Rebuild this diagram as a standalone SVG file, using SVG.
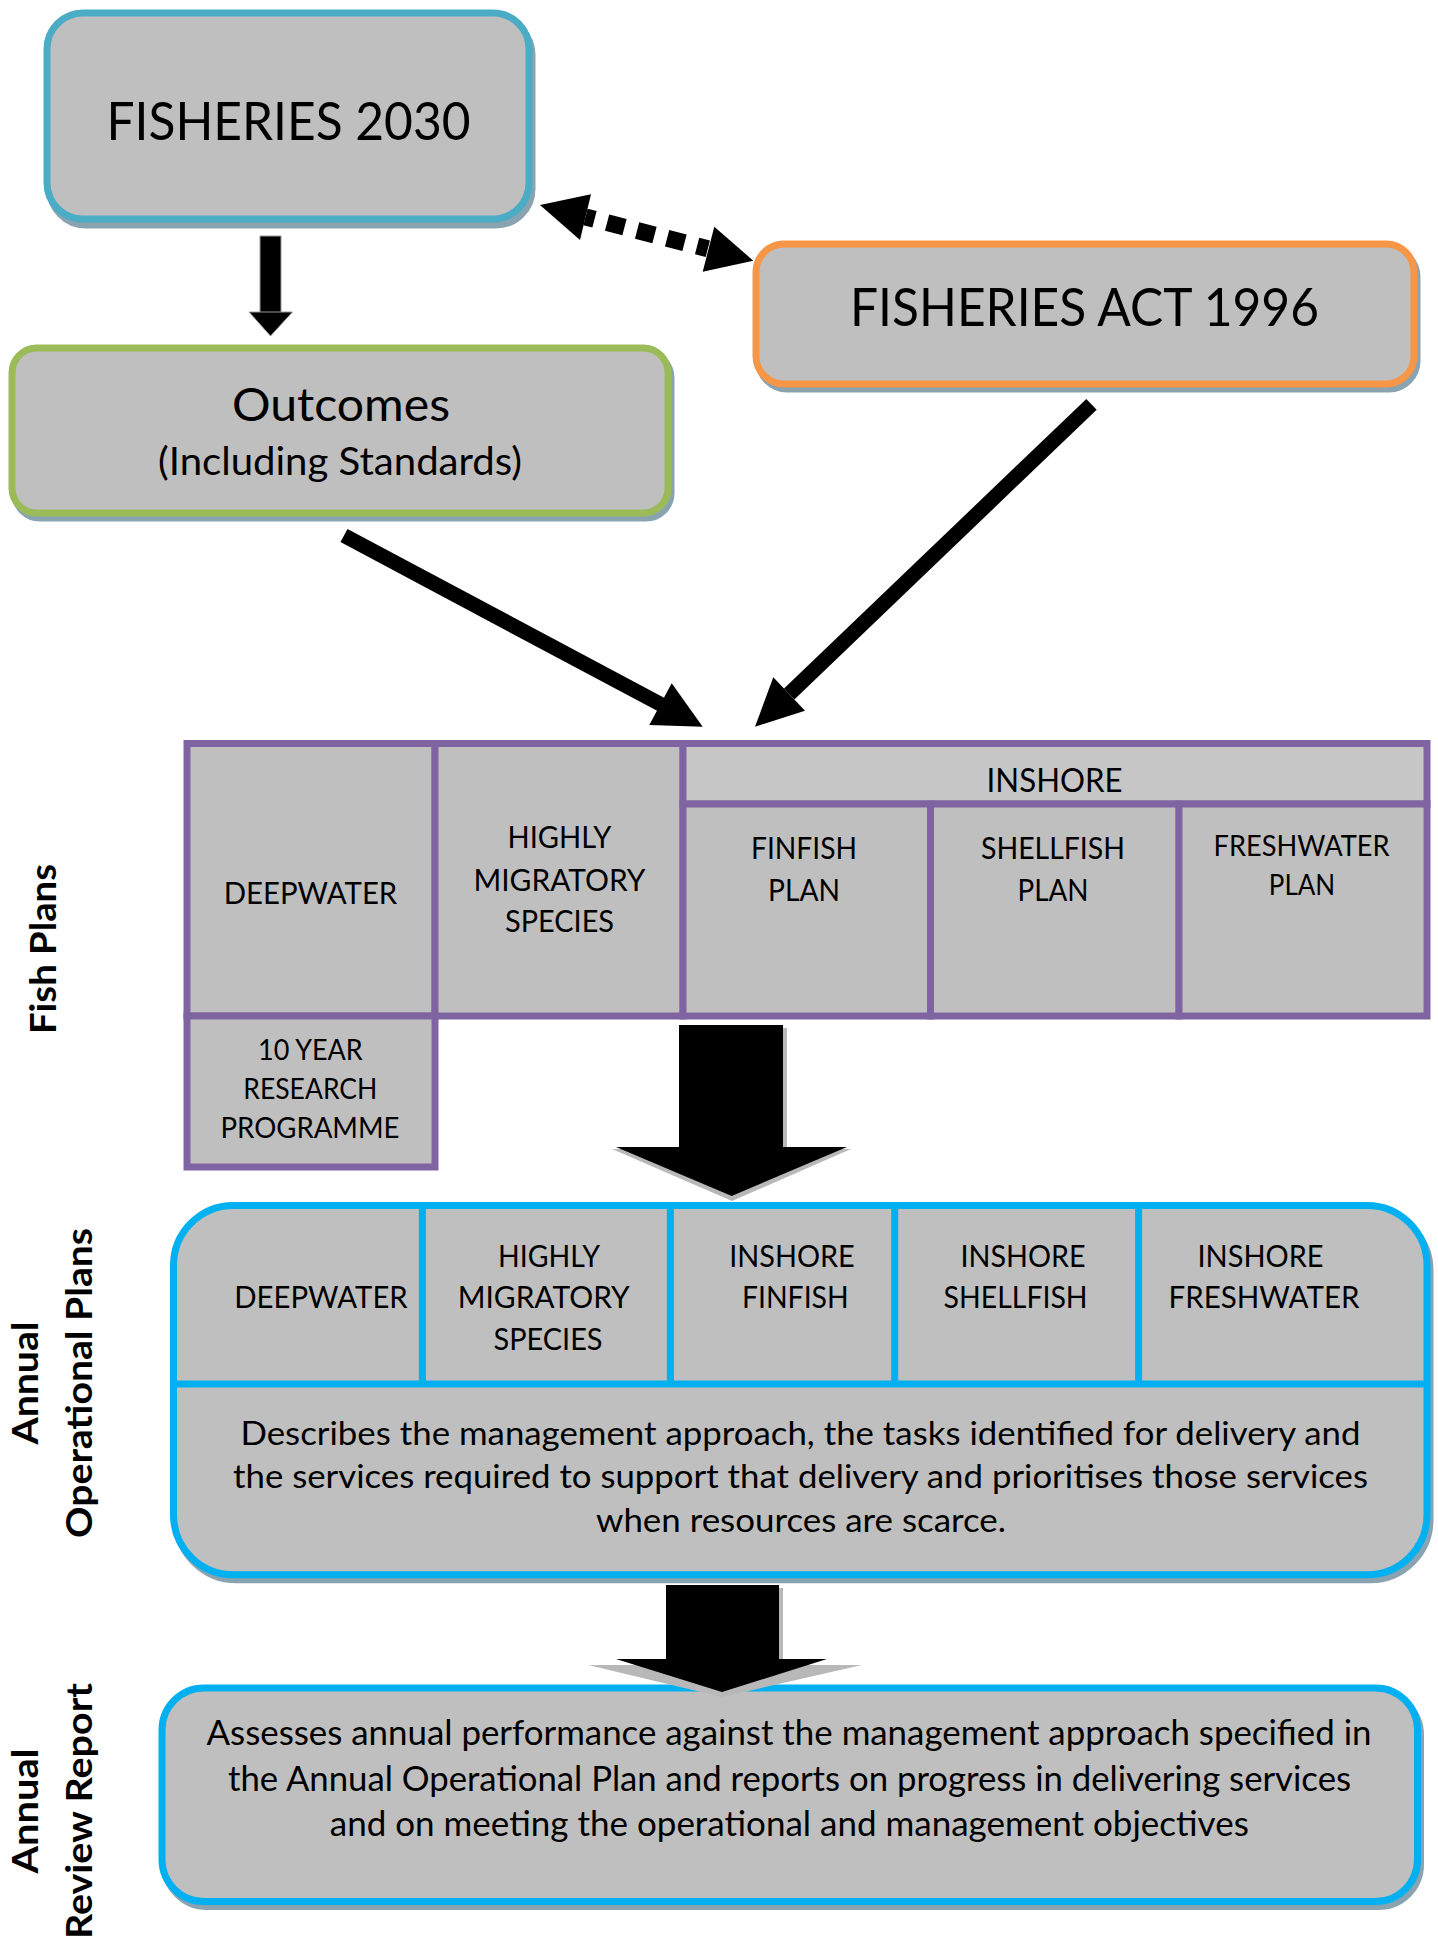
<svg xmlns="http://www.w3.org/2000/svg" width="1438" height="1937" viewBox="0 0 1438 1937">
<defs>
<style>
.t{font-family:Lato,'Open Sans','Liberation Sans',sans-serif;fill:#000;text-anchor:middle;}
.b{font-weight:bold;}
.sh{fill:#A9BDC8;stroke:#8AA3B1;stroke-width:7;}
.box{fill:#BFBFBF;stroke-width:7;}
.cell{fill:#BFBFBF;stroke:#8064A2;stroke-width:7;}
.blue{stroke:#00B0F0;stroke-width:7;fill:none;}
.arw{fill:#000;}
.gsh{fill:#B8B8B8;}
</style>
</defs>
<rect width="1438" height="1937" fill="#FFFFFF"/>

<g id="fisheries2030">
<rect class="sh" x="50" y="19" width="482" height="206" rx="36"/>
<rect class="box" x="47" y="13" width="482" height="206" rx="36" stroke="#4BACC6"/>
<text class="t" x="288.5" y="140" font-size="52" textLength="364" lengthAdjust="spacingAndGlyphs">FISHERIES 2030</text>
</g>

<g id="fisheriesAct">
<rect class="sh" x="759" y="249" width="658" height="140" rx="28"/>
<rect class="box" x="756" y="244" width="658" height="140" rx="28" stroke="#F79646"/>
<text class="t" x="1084.5" y="326" font-size="52" textLength="469" lengthAdjust="spacingAndGlyphs">FISHERIES ACT 1996</text>
</g>

<g id="outcomes">
<rect class="sh" x="15" y="353" width="656" height="165" rx="25"/>
<rect class="box" x="12" y="348" width="656" height="165" rx="25" stroke="#9BBB59"/>
<text class="t" x="341" y="421" font-size="47" textLength="218" lengthAdjust="spacingAndGlyphs">Outcomes</text>
<text class="t" x="340" y="475" font-size="38" textLength="364" lengthAdjust="spacingAndGlyphs">(Including Standards)</text>
</g>

<g id="fishPlans">
<rect class="cell" x="187" y="743.5" width="248" height="272.5"/>
<rect class="cell" x="435" y="743.5" width="248" height="272.5"/>
<rect class="cell" x="683" y="743.5" width="744" height="60.5" fill="#C6C6C6" style="fill:#C6C6C6"/>
<rect class="cell" x="683" y="804" width="247.5" height="212"/>
<rect class="cell" x="930.5" y="804" width="248.5" height="212"/>
<rect class="cell" x="1179" y="804" width="248" height="212"/>
<rect class="cell" x="187" y="1016" width="248" height="151"/>
<text class="t" x="310.5" y="904" font-size="30.5" textLength="173.5" lengthAdjust="spacingAndGlyphs">DEEPWATER</text>
<text class="t" x="559.5" y="848" font-size="30.5" textLength="104" lengthAdjust="spacingAndGlyphs">HIGHLY</text>
<text class="t" x="559.5" y="890.5" font-size="30.5" textLength="172" lengthAdjust="spacingAndGlyphs">MIGRATORY</text>
<text class="t" x="559.5" y="932" font-size="30.5" textLength="109" lengthAdjust="spacingAndGlyphs">SPECIES</text>
<text class="t" x="1054.6" y="792" font-size="33" textLength="136" lengthAdjust="spacingAndGlyphs">INSHORE</text>
<text class="t" x="804" y="859" font-size="30.5" textLength="106" lengthAdjust="spacingAndGlyphs">FINFISH</text>
<text class="t" x="804" y="901" font-size="30.5" textLength="72" lengthAdjust="spacingAndGlyphs">PLAN</text>
<text class="t" x="1053" y="859" font-size="30.5" textLength="144" lengthAdjust="spacingAndGlyphs">SHELLFISH</text>
<text class="t" x="1053" y="901" font-size="30.5" textLength="71" lengthAdjust="spacingAndGlyphs">PLAN</text>
<text class="t" x="1301.6" y="856" font-size="28.5" textLength="176" lengthAdjust="spacingAndGlyphs">FRESHWATER</text>
<text class="t" x="1302" y="894.5" font-size="28.5" textLength="66.4" lengthAdjust="spacingAndGlyphs">PLAN</text>
<text class="t" x="310.4" y="1060" font-size="29" textLength="104.7" lengthAdjust="spacingAndGlyphs">10 YEAR</text>
<text class="t" x="310.3" y="1099" font-size="29" textLength="134" lengthAdjust="spacingAndGlyphs">RESEARCH</text>
<text class="t" x="310" y="1137.5" font-size="29" textLength="179" lengthAdjust="spacingAndGlyphs">PROGRAMME</text>
</g>

<g id="annualOperationalPlans">
<rect class="sh" x="176.5" y="1210.5" width="1253.5" height="369.3" rx="60"/>
<rect class="box" x="173.5" y="1205.5" width="1253.5" height="369.3" rx="60" stroke="#00B0F0"/>
<line class="blue" x1="173.5" y1="1384" x2="1427" y2="1384"/>
<line class="blue" x1="422.4" y1="1205.5" x2="422.4" y2="1384"/>
<line class="blue" x1="670.4" y1="1205.5" x2="670.4" y2="1384"/>
<line class="blue" x1="894.7" y1="1205.5" x2="894.7" y2="1384"/>
<line class="blue" x1="1138.6" y1="1205.5" x2="1138.6" y2="1384"/>
<text class="t" x="321" y="1308" font-size="30.5" textLength="173.5" lengthAdjust="spacingAndGlyphs">DEEPWATER</text>
<text class="t" x="549" y="1267" font-size="30.5" textLength="102" lengthAdjust="spacingAndGlyphs">HIGHLY</text>
<text class="t" x="543.7" y="1308" font-size="30.5" textLength="172" lengthAdjust="spacingAndGlyphs">MIGRATORY</text>
<text class="t" x="548" y="1350" font-size="30.5" textLength="109" lengthAdjust="spacingAndGlyphs">SPECIES</text>
<text class="t" x="792" y="1267" font-size="30.5" textLength="125.5" lengthAdjust="spacingAndGlyphs">INSHORE</text>
<text class="t" x="795.3" y="1308" font-size="30.5" textLength="106.6" lengthAdjust="spacingAndGlyphs">FINFISH</text>
<text class="t" x="1023" y="1267" font-size="30.5" textLength="125" lengthAdjust="spacingAndGlyphs">INSHORE</text>
<text class="t" x="1015.6" y="1308" font-size="30.5" textLength="144" lengthAdjust="spacingAndGlyphs">SHELLFISH</text>
<text class="t" x="1260.5" y="1267" font-size="30.5" textLength="126" lengthAdjust="spacingAndGlyphs">INSHORE</text>
<text class="t" x="1264" y="1308" font-size="30.5" textLength="191" lengthAdjust="spacingAndGlyphs">FRESHWATER</text>
<text class="t" x="800.5" y="1444.6" font-size="33" textLength="1120" lengthAdjust="spacingAndGlyphs">Describes the management approach, the tasks identified for delivery and</text>
<text class="t" x="800.5" y="1488" font-size="33" textLength="1135" lengthAdjust="spacingAndGlyphs">the services required to support that delivery and prioritises those services</text>
<text class="t" x="801" y="1532.4" font-size="33" textLength="410" lengthAdjust="spacingAndGlyphs">when resources are scarce.</text>
</g>

<g id="annualReviewReport">
<rect class="sh" x="165" y="1693" width="1255.5" height="213.5" rx="42"/>
<rect class="box" x="162" y="1688" width="1255.5" height="213.5" rx="42" stroke="#00B0F0"/>
<text class="t" x="789" y="1745" font-size="34" textLength="1165" lengthAdjust="spacingAndGlyphs">Assesses annual performance against the management approach specified in</text>
<text class="t" x="789.5" y="1791" font-size="34" textLength="1123" lengthAdjust="spacingAndGlyphs">the Annual Operational Plan and reports on progress in delivering services</text>
<text class="t" x="789.3" y="1835.7" font-size="34" textLength="919" lengthAdjust="spacingAndGlyphs">and on meeting the operational and management objectives</text>
</g>

<g id="sideLabels">
<text class="t b" transform="translate(56,949) rotate(-90)" font-size="37" textLength="170" lengthAdjust="spacingAndGlyphs">Fish Plans</text>
<text class="t b" transform="translate(38,1383) rotate(-90)" font-size="37" textLength="123" lengthAdjust="spacingAndGlyphs">Annual</text>
<text class="t b" transform="translate(92,1383) rotate(-90)" font-size="37" textLength="310" lengthAdjust="spacingAndGlyphs">Operational Plans</text>
<text class="t b" transform="translate(38,1811) rotate(-90)" font-size="37" textLength="125" lengthAdjust="spacingAndGlyphs">Annual</text>
<text class="t b" transform="translate(92,1811) rotate(-90)" font-size="37" textLength="256" lengthAdjust="spacingAndGlyphs">Review Report</text>
</g>

<g id="connectors">
<rect class="arw" x="260" y="236" width="21" height="77" stroke="#9A9A9A" stroke-width="1"/>
<polygon class="arw" points="249,312 292.5,312 270.5,336" stroke="#9A9A9A" stroke-width="1"/>
<line x1="585.5" y1="217" x2="707.8" y2="248.8" stroke="#000" stroke-width="17" stroke-dasharray="18 13" stroke-dashoffset="8.7"/>
<polygon class="arw" points="540,205 591,194.3 580,240"/>
<polygon class="arw" points="753.3,260.7 714.3,226.7 702.7,271.7"/>
<line x1="344" y1="535.5" x2="662" y2="705" stroke="#000" stroke-width="15"/>
<polygon class="arw" points="702.7,726.7 649.3,725 671.7,683.3"/>
<line x1="1091.5" y1="404.3" x2="789.2" y2="694" stroke="#000" stroke-width="15"/>
<polygon class="arw" points="755,726.7 773.3,677.3 805,710.7"/>
<rect class="gsh" x="783" y="1028" width="4" height="120"/>
<polygon class="gsh" points="612,1149 851,1149 732,1201"/>
<rect class="arw" x="679" y="1025" width="104" height="123"/>
<polygon class="arw" points="616,1147 847,1147 731.7,1196"/>
<rect class="gsh" x="779" y="1588" width="4" height="72"/>
<polygon class="gsh" points="588,1665 862,1665 722,1697"/>
<rect class="arw" x="666" y="1585" width="113" height="75"/>
<polygon class="arw" points="616,1659 827,1659 722,1692"/>
</g>
</svg>
